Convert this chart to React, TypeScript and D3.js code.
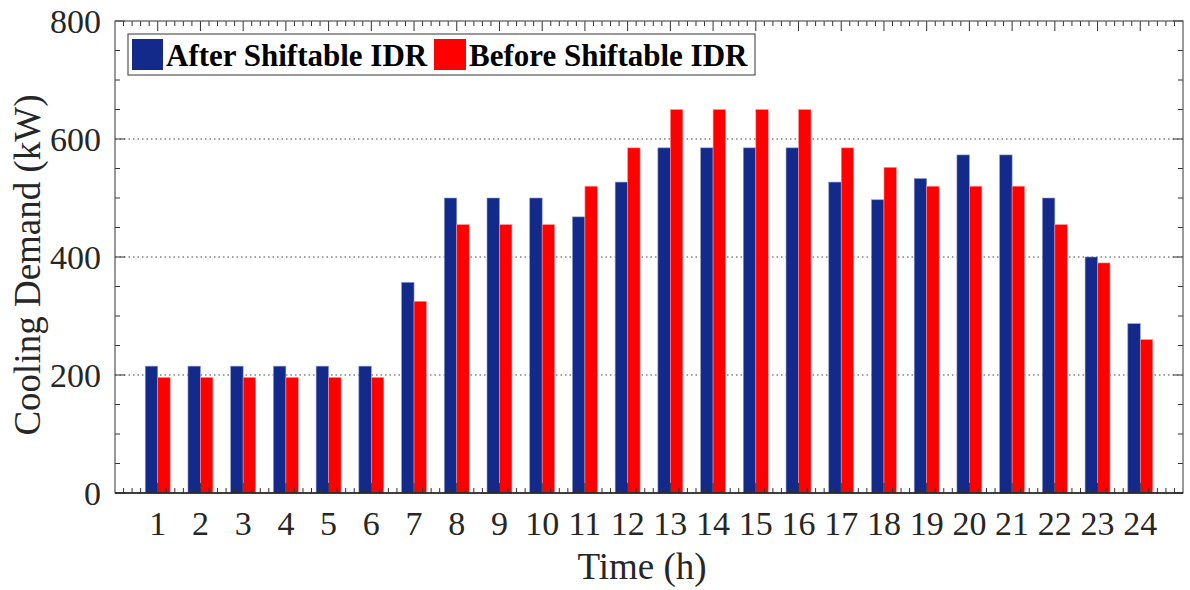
import * as d3 from "d3";

const hours = d3.range(1, 25);
const afterIDR = [215, 215, 215, 215, 215, 215, 357, 500, 500, 500, 468, 527, 585, 585, 585, 585, 527, 497, 533, 573, 573, 500, 400, 287];
const beforeIDR = [196, 196, 196, 196, 196, 196, 325, 455, 455, 455, 520, 585, 650, 650, 650, 650, 585, 552, 520, 520, 520, 455, 390, 260];
const yTicks = [0, 200, 400, 600, 800];
const seriesNames = ["After Shiftable IDR", "Before Shiftable IDR"];

const W = 1190;
const H = 590;
const left = 115;
const right = 1183;
const top = 21;
const bottom = 493;
const blue = "#142a8b";
const red = "#ff0000";
const font = "'Liberation Serif', 'Times New Roman', serif";

export default function App() {
  const x = d3.scaleLinear().domain([0, 25]).range([left, right]);
  const y = d3.scaleLinear().domain([0, 800]).range([bottom, top]);
  const bw = 0.292; // bar width in hours

  const xMinor = d3.range(0, 25.001, 0.2).filter((v) => Math.abs(v - Math.round(v)) > 1e-6);
  const yMinor = d3.range(0, 801, 50).filter((v) => v % 200 !== 0);

  return (
    <svg width={W} height={H} style={{ position: "absolute", left: 0, top: 0 }} fontFamily={font}>
      <rect width={W} height={H} fill="#fff" />

      {/* grid */}
      {yTicks.slice(1, -1).map((t) => (
        <line key={t} x1={left} x2={right} y1={y(t)} y2={y(t)} stroke="#444" strokeWidth={1} strokeDasharray="1.5,3" />
      ))}

      {/* bars */}
      {hours.map((h, i) => (
        <g key={h}>
          <rect x={x(h - bw)} width={x(bw) - x(0)} y={y(afterIDR[i])} height={y(0) - y(afterIDR[i])} fill={blue} stroke="#8f9bc8" strokeWidth={0.6} />
          <rect x={x(h)} width={x(bw) - x(0)} y={y(beforeIDR[i])} height={y(0) - y(beforeIDR[i])} fill={red} stroke="#ff9a9a" strokeWidth={0.6} />
        </g>
      ))}

      {/* ticks */}
      <g stroke="#333" strokeWidth={1}>
        {xMinor.map((v) => (
          <g key={v}>
            <line x1={x(v)} x2={x(v)} y1={bottom} y2={bottom - 5} />
            <line x1={x(v)} x2={x(v)} y1={top} y2={top + 5} />
          </g>
        ))}
        {hours.map((h) => (
          <g key={h}>
            <line x1={x(h)} x2={x(h)} y1={bottom} y2={bottom - 10} />
            <line x1={x(h)} x2={x(h)} y1={top} y2={top + 10} />
          </g>
        ))}
        {yMinor.map((v) => (
          <g key={v}>
            <line x1={left} x2={left + 5} y1={y(v)} y2={y(v)} />
            <line x1={right} x2={right - 5} y1={y(v)} y2={y(v)} />
          </g>
        ))}
        {yTicks.map((v) => (
          <g key={v}>
            <line x1={left} x2={left + 10} y1={y(v)} y2={y(v)} />
            <line x1={right} x2={right - 10} y1={y(v)} y2={y(v)} />
          </g>
        ))}
      </g>

      {/* frame */}
      <rect x={left} y={top} width={right - left} height={bottom - top} fill="none" stroke="#555" strokeWidth={1.2} />
      <line x1={left} x2={right} y1={bottom} y2={bottom} stroke="#222" strokeWidth={1.6} />

      {/* tick labels */}
      <g fill="#262626" fontSize={34}>
        {hours.map((h) => (
          <text key={h} x={x(h)} y={535} textAnchor="middle">{h}</text>
        ))}
        {yTicks.map((t) => (
          <text key={t} x={101} y={y(t)} dy="0.35em" textAnchor="end">{t}</text>
        ))}
      </g>

      {/* axis titles */}
      <text x={642} y={579} textAnchor="middle" fontSize={37} fill="#262626">Time (h)</text>
      <text transform={`translate(40,${(top + bottom) / 2 + 8}) rotate(-90)`} textAnchor="middle" fontSize={37} fill="#262626">
        Cooling Demand (kW)
      </text>

      {/* legend */}
      <g>
        <rect x={128} y={34} width={627} height={41} fill="#fff" stroke="#555" strokeWidth={1.2} />
        <rect x={132} y={39} width={31} height={31} fill={blue} />
        <text x={166} y={66} fontSize={31} fontWeight="bold" fill="#000">{seriesNames[0]}</text>
        <rect x={434} y={39} width={32} height={31} fill={red} />
        <text x={469} y={66} fontSize={31} fontWeight="bold" fill="#000">{seriesNames[1]}</text>
      </g>
    </svg>
  );
}
